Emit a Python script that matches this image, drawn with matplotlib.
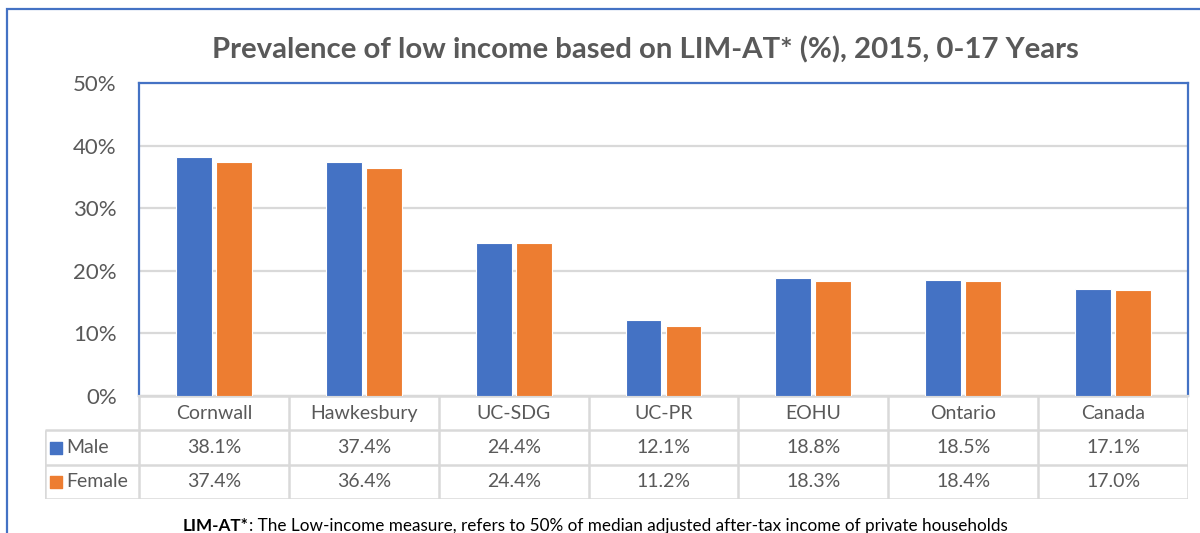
import matplotlib
matplotlib.use("Agg")
from matplotlib import pyplot as plt
from matplotlib.patches import Rectangle

# data
places = ["Cornwall", "Hawkesbury", "UC-SDG", "UC-PR", "EOHU", "Ontario", "Canada"]
male = [38.1, 37.4, 24.4, 12.1, 18.8, 18.5, 17.1]
female = [37.4, 36.4, 24.4, 11.2, 18.3, 18.4, 17.0]
series_names = ["Male", "Female"]
yticks = [0, 10, 20, 30, 40, 50]

BLUE = "#4472C4"
ORANGE = "#ED7D31"
GRAY = "#595959"
LINE = "#D9D9D9"

plt.rcParams["font.family"] = ["Lato", "DejaVu Sans"]

W, H = 1200, 533
fig = plt.figure(figsize=(12, 5.33), dpi=100)

def px(x0, y0, x1, y1):
    # pixel box (top-left origin) -> figure fraction
    return [x0 / W, 1 - y1 / H, (x1 - x0) / W, (y1 - y0) / H]

# outer chart border
fig.patches.append(Rectangle((7 / W, -0.1), 1.2, 1 - 9 / H + 0.1, transform=fig.transFigure,
                             fill=False, edgecolor=BLUE, lw=1.6))

# bar area
ax = fig.add_axes(px(139, 83, 1188, 396))
x = list(range(len(places)))
bw = 0.24
off = 0.1335
ax.bar([i - off for i in x], male, width=bw, color=BLUE, edgecolor="white", linewidth=0.8, zorder=3)
ax.bar([i + off for i in x], female, width=bw, color=ORANGE, edgecolor="white", linewidth=0.8, zorder=3)
ax.set_xlim(-0.5, len(places) - 0.5)
ax.set_ylim(0, 50)
ax.set_yticks(yticks)
ax.set_yticklabels([f"{v}%" for v in yticks], fontsize=16, color=GRAY)
ax.tick_params(axis="y", length=0, pad=16)
ax.set_xticks([])
ax.yaxis.grid(True, color=LINE, lw=1.6, zorder=0)
for s in ["left", "top", "right"]:
    ax.spines[s].set_color(BLUE)
    ax.spines[s].set_linewidth(1.6)
ax.spines["bottom"].set_color(LINE)
ax.spines["bottom"].set_linewidth(1.6)

# data table below
lab_w = 94 / ((1188 - 139) / len(places))
tb = fig.add_axes(px(45, 396, 1188, 499))
tb.set_xlim(-0.5 - lab_w, len(places) - 0.5)
tb.set_ylim(3, 0)
tb.axis("off")
lk = dict(color=LINE, lw=1.8, solid_capstyle="butt")
# horizontal lines
tb.plot([-0.5, len(places) - 0.5], [0, 0], **lk)
for r in [1, 2, 3]:
    tb.plot([-0.5 - lab_w, len(places) - 0.5], [r, r], **lk)
# vertical lines
tb.plot([-0.5 - lab_w, -0.5 - lab_w], [1, 3], **lk)
for i in range(len(places) + 1):
    tb.plot([i - 0.5, i - 0.5], [0, 3], **lk)
for i, name in enumerate(places):
    tb.text(i, 0.5, name, ha="center", va="center", fontsize=14, color=GRAY)
    tb.text(i, 1.5, f"{male[i]:.1f}%", ha="center", va="center", fontsize=14, color=GRAY)
    tb.text(i, 2.5, f"{female[i]:.1f}%", ha="center", va="center", fontsize=14, color=GRAY)
for r, (name, c) in enumerate(zip(series_names, [BLUE, ORANGE])):
    tb.scatter([-0.5 - lab_w + 0.075], [r + 1.5], marker="s", s=75, color=c, clip_on=False)
    tb.text(-0.5 - lab_w + 0.14, r + 1.5, name, ha="left", va="center", fontsize=14, color=GRAY)

# title
fig.text(645 / W, 1 - 50 / H, "Prevalence of low income based on LIM-AT* (%), 2015, 0-17 Years",
         ha="center", va="center", fontsize=21.2, fontweight="bold", color=GRAY)

# footnote
fig.canvas.draw()
t1 = fig.text(183 / W, 1 - 526 / H, "LIM-AT*", ha="left", va="center", fontsize=12.3,
              fontweight="bold", color="black")
ext = t1.get_window_extent(fig.canvas.get_renderer())
fig.text(ext.x1 / W, 1 - 526 / H,
         ": The Low-income measure, refers to 50% of median adjusted after-tax income of private households",
         ha="left", va="center", fontsize=12.3, color="black")

fig.savefig("out.png", dpi=100)
